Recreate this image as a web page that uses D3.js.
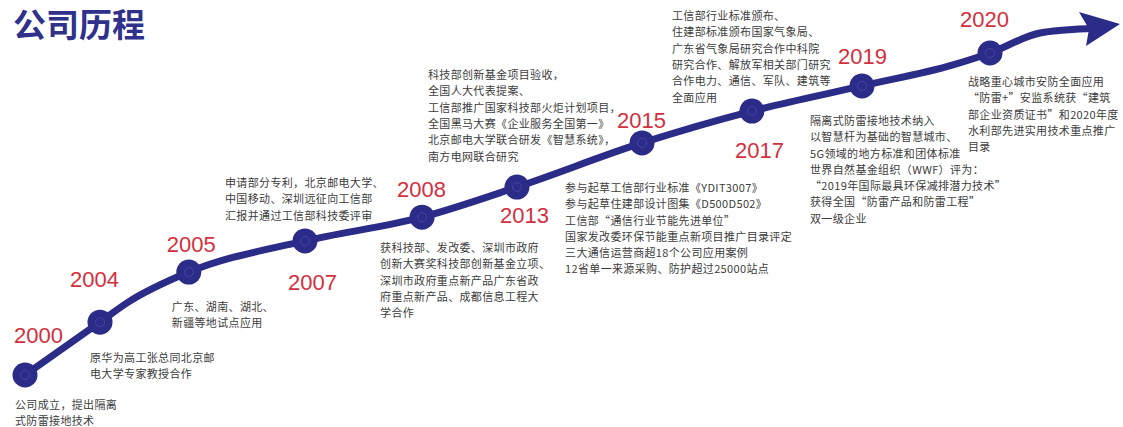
<!DOCTYPE html>
<html><head><meta charset="utf-8">
<script src="https://cdn.jsdelivr.net/npm/d3@7"></script>
<style>body{margin:0;background:#fff}svg{display:block}</style>
</head><body>
<svg id="c" width="1123" height="427"></svg>
<script>
// ---- data ----
const title = "公司历程";
const years = ["2000","2004","2005","2007","2008","2013","2015","2017","2019","2020"];
// position along the timeline (0-100) and growth level (0-100) for each milestone
const progress = [0, 6.85, 14.96, 25.57, 36.26, 44.93, 56.35, 66.39, 76.44, 88.13];
const level    = [0, 15.1, 29.4, 38.3, 45.1, 53.7, 66.3, 75.4, 82.6, 92.0];
// the growth line (milestones plus bends)
const lineProgress = [0, 6.85, 9.32, 14.96, 25.57, 36.26, 44.93, 56.35, 66.39, 76.44, 84.75, 88.13, 92.7, 96.95];
const lineLevel    = [0, 15.1, 20.6, 29.4, 38.3, 45.1, 53.7, 66.3, 75.4, 82.6, 88.6, 92.0, 97.7, 98.9];
const arrowTip = [100, 100.3];
const events = [
  ["公司成立，提出隔离","式防雷接地技术"],
  ["原华为高工张总同北京邮","电大学专家教授合作"],
  ["广东、湖南、湖北、","新疆等地试点应用"],
  ["申请部分专利，北京邮电大学、","中国移动、深圳远征向工信部","汇报并通过工信部科技委评审"],
  ["获科技部、发改委、深圳市政府","创新大赛奖科技部创新基金立项、","深圳市政府重点新产品广东省政","府重点新产品、成都信息工程大","学合作"],
  ["科技部创新基金项目验收，","全国人大代表提案、","工信部推广国家科技部火炬计划项目，","全国黑马大赛《企业服务全国第一》","北京邮电大学联合研发《智慧系统》，","南方电网联合研究"],
  ["参与起草工信部行业标准《YDIT3007》","参与起草住建部设计图集《D500D502》","工信部“通信行业节能先进单位”","国家发改委环保节能重点新项目推广目录评定","三大通信运营商超18个公司应用案例","12省单一来源采购、防护超过25000站点"],
  ["工信部行业标准颁布、","住建部标准颁布国家气象局、","广东省气象局研究合作中科院","研究合作、解放军相关部门研究","合作电力、通信、军队、建筑等","全面应用"],
  ["隔离式防雷接地技术纳入","以智慧杆为基础的智慧城市、","5G领域的地方标准和团体标准","世界自然基金组织（WWF）评为：","“2019年国际最具环保减排潜力技术”","获得全国“防雷产品和防雷工程”","双一级企业"],
  ["战略重心城市安防全面应用","“防雷+”安监系统获“建筑","部企业资质证书”和2020年度","水利部先进实用技术重点推广","目录"]
];

// ---- layout (pixel offsets from each node) ----
const yearOffset = [[-11,-32],[-30,-35],[-22,-20],[-17,49],[-25,-20],[-17,36],[-25,-15],[-17,47],[-24,-22],[-30,-26]];
const textOffset = [[-10,34],[-10,40],[-17,39],[-80,-54],[-42,35],[-89,-108],[-77,49],[-80,-91],[-52,39],[-22,33]];

const W = 1123, H = 427;
const navy = "#2b2b88", red = "#d42f3d", gray = "#3c3c3c";
const x = d3.scaleLinear().domain([0,100]).range([25,1120]);
const y = d3.scaleLinear().domain([0,100]).range([375,25]);
const svg = d3.select("#c");

svg.append("text").attr("x",13).attr("y",37)
  .attr("font-family","'Noto Sans CJK SC',sans-serif").attr("font-weight","bold")
  .attr("font-size",33).attr("fill","#2f318b").text(title);

const pts = lineProgress.map((p,i)=>[x(p), y(lineLevel[i])]);
svg.append("path").attr("d", d3.line().curve(d3.curveMonotoneX)(pts))
  .attr("fill","none").attr("stroke",navy).attr("stroke-width",7).attr("stroke-linecap","round");

// arrowhead
const tx = x(arrowTip[0]), ty = y(arrowTip[1]);
const head = [[0,0],[-41,-12],[-31,5],[-34,22]].map(([dx,dy])=>[tx+dx,ty+dy]);
svg.append("path").attr("d", d3.line()(head)+"Z").attr("fill",navy);

const nodes = years.map((yr,i)=>({yr, cx:x(progress[i]), cy:y(level[i]), i}));
const g = svg.selectAll("g.node").data(nodes).join("g").attr("class","node");
g.append("circle").attr("cx",d=>d.cx).attr("cy",d=>d.cy).attr("r",12.5).attr("fill",navy);
g.append("circle").attr("cx",d=>d.cx).attr("cy",d=>d.cy).attr("r",4.5)
  .attr("fill","none").attr("stroke","#5557ad").attr("stroke-width",1).attr("opacity",0.6);

g.append("text").attr("x",d=>d.cx+yearOffset[d.i][0]).attr("y",d=>d.cy+yearOffset[d.i][1])
  .attr("font-family","'Liberation Sans',Arial,sans-serif").attr("font-size",22)
  .attr("fill",red).text(d=>d.yr);

const lh = 16.3;
g.each(function(d){
  const t = d3.select(this).append("text")
    .attr("font-family","'Noto Sans CJK SC',sans-serif").attr("font-size",11)
    .attr("letter-spacing","0.35px").attr("fill",gray);
  events[d.i].forEach((line,k)=>{
    t.append("tspan").attr("x",d.cx+textOffset[d.i][0])
      .attr("y",d.cy+textOffset[d.i][1]+k*lh).text(line);
  });
});
</script>
</body></html>
